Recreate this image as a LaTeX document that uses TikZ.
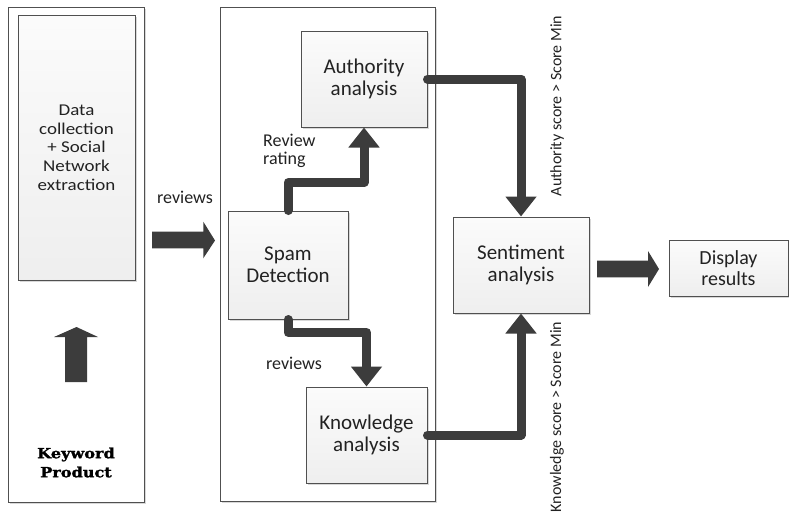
\documentclass[tikz,border=0pt]{standalone}
\usepackage{fontspec}
\setmainfont{Carlito}
\newfontfamily\widefont[FakeStretch=1.15]{Carlito}
\newfontfamily\kwfont[FakeStretch=1.15, BoldFeatures={FakeBold=1.6}]{DejaVu Serif}
\usetikzlibrary{arrows.meta,shadows}

\definecolor{linegray}{HTML}{505050}
\definecolor{arrowgray}{HTML}{3C3C3C}
\definecolor{txtgray}{HTML}{222222}

\tikzset{
  softshadow/.style={drop shadow={shadow xshift=2pt, shadow yshift=-2pt, fill=black!30, opacity=0.5}},
  pane/.style={draw=linegray, line width=1pt, fill=white, inner sep=0pt, softshadow},
  box/.style={draw=linegray, line width=1pt, top color=gray!3, bottom color=gray!13,
              inner sep=0pt, align=center, text=txtgray,
              font=\fontsize{21}{22}\selectfont, softshadow},
  lbl/.style={text=txtgray, inner sep=0pt, font=\fontsize{18}{18}\selectfont},
  vlbl/.style={text=txtgray, inner sep=0pt, rotate=90, font=\fontsize{16}{16}\selectfont},
  flow/.style={draw=arrowgray, line width=9pt, line cap=round, line join=round,
               -{Triangle[width=30pt,length=20pt]}},
  blockarrow/.style={fill=arrowgray, draw=none}
}

\begin{document}
\begin{tikzpicture}[x=1pt, y=-1pt]
\useasboundingbox (0,0) rectangle (789,515);

% outer panes
\node[pane, minimum width=136pt, minimum height=495pt] (leftpane) at (76,254.5) {};
\node[pane, minimum width=215pt, minimum height=494pt] (midpane) at (327.5,254) {};

% data collection stage
\node[box, minimum width=117pt, minimum height=265pt,
      font=\widefont\fontsize{16.5}{18.7}\selectfont] (collect) at (76.5,147.5)
  {Data\\collection\\+ Social\\Network\\extraction};

\node[inner sep=0pt, align=center, text=black,
      font=\kwfont\bfseries\fontsize{14}{19}\selectfont] (keyword) at (76,462.5)
  {Keyword\\Product};

% processing boxes
\node[box, minimum width=126pt, minimum height=96pt] (auth) at (364,79) {Authority\\analysis};
\node[box, minimum width=120pt, minimum height=108pt] (spam) at (288,265) {Spam\\Detection};
\node[box, minimum width=121pt, minimum height=96pt] (know) at (366.5,435) {Knowledge\\analysis};
\node[box, minimum width=136pt, minimum height=96pt] (sent) at (521,265) {Sentiment\\analysis};
\node[box, minimum width=119pt, minimum height=56pt,
      font=\fontsize{20}{21}\selectfont] (disp) at (728.5,268) {Display\\results};

% labels
\node[lbl] (lblrev) at (185,197) {reviews};
\node[lbl, anchor=west, align=left] (lblrating) at (263,151) {Review\\rating};
\node[lbl] (lblrevmid) at (294,363) {reviews};
\node[vlbl] (lblauth) at (557,106) {Authority score > Score Min};
\node[vlbl] (lblknow) at (557,417) {Knowledge score > Score Min};

% block arrows
\coordinate (uptip) at (76.5,327);
\fill[blockarrow] (uptip) -- ++(21.5,10) -- ++(-11,0) -- ++(0,45) -- ++(-22,0)
  -- ++(0,-45) -- ++(-11,0) -- cycle;

\coordinate (revtip) at (215,240.5);
\fill[blockarrow] (revtip) -- ++(-11.7,17.8) -- ++(0,-10) -- ++(-51.3,0) -- ++(0,-16.6)
  -- ++(51.3,0) -- ++(0,-10) -- cycle;

\coordinate (disptip) at (659,269);
\fill[blockarrow] (disptip) -- ++(-11,18) -- ++(0,-9.7) -- ++(-51,0) -- ++(0,-16.6)
  -- ++(51,0) -- ++(0,-9.7) -- cycle;

% flow connectors
\draw[flow] (spam.north) -- ++(0,-28) -| (auth.south);
\draw[flow] (spam.south) -- ++(0,13) -| (know.north);
\draw[flow] (auth.east) -| (sent.north);
\draw[flow] (know.east) -| (sent.south);
\end{tikzpicture}
\end{document}
